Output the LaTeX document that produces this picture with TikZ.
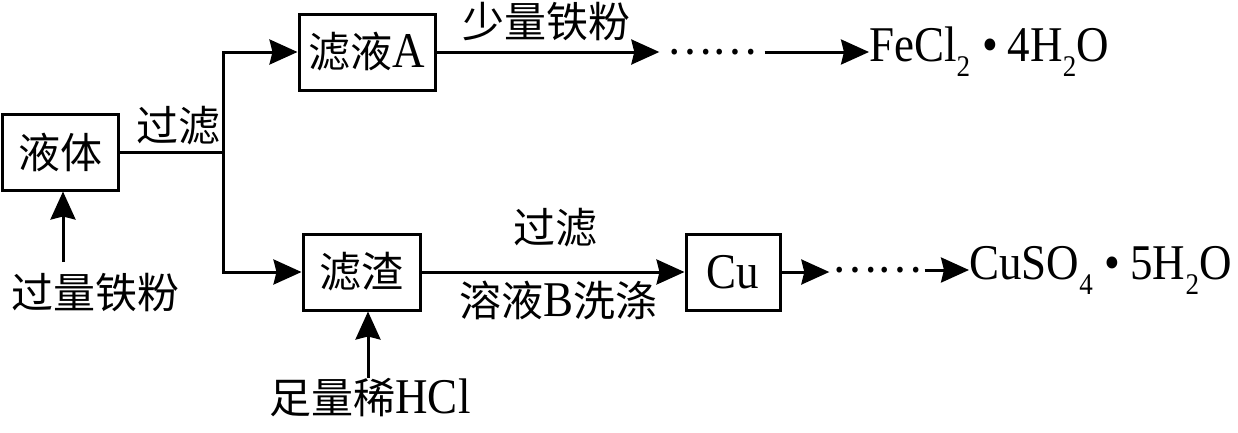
\documentclass[tikz,border=0pt]{standalone}
\usepackage{fontspec}
\setmainfont{Liberation Serif}[FakeStretch=0.9]
\newfontfamily\cjk{Noto Sans CJK SC}
\usetikzlibrary{arrows.meta}
\newcommand\zh[1]{{\fontsize{42}{46}\selectfont\cjk #1}}
\newcommand\dn[1]{\raisebox{-0.3em}{\fontsize{30}{32}\selectfont #1}}
\newcommand\mdot{\hspace{12pt}\textbullet\hspace{10pt}}
\begin{document}
\begin{tikzpicture}[x=1pt,y=-1pt,
 box/.style={draw,line width=3pt,inner sep=0pt,minimum height=76pt,font=\fontsize{50}{54}\selectfont},
 arr/.style={line width=3pt,-{Stealth[length=28pt,width=25pt,inset=3pt]}},
 ln/.style={line width=3pt},
 lab/.style={inner sep=0pt,font=\fontsize{50}{54}\selectfont},
 dotsn/.style={inner xsep=8pt,inner ysep=0pt}]
\useasboundingbox (0,0) rectangle (1238,432);
\node[box,minimum width=116pt] (yeti) at (60,152) {\zh{液体}};
\node[box,minimum width=136pt] (lvA) at (367,52) {\zh{滤液}A};
\node[box,minimum width=117pt] (lz) at (361.5,272) {\zh{滤渣}};
\node[box,minimum width=94pt] (cu) at (733,272) {Cu};
% branch
\coordinate (br) at (223,152);
\draw[ln] (yeti.east) -- (br);
\draw[arr] (br) |- (lvA.west);
\draw[arr] (br) |- (lz.west);
\node[lab] (gl1) at (178,126) {\zh{过滤}};
% inputs
\node[lab] (gl) at (95,293) {\zh{过量铁粉}};
\coordinate (g0) at (63,262);
\draw[arr] (g0) -- (g0 |- yeti.south);
\node[lab] (hcl) at (370,398) {\zh{足量稀}HCl};
\coordinate (h0) at (368,378);
\draw[arr] (h0) -- (h0 |- lz.south);
% top row
\node[lab] (sl) at (546,22) {\zh{少量铁粉}};
\node[lab,dotsn] (dots1) at (712,52) {\zh{……}};
\draw[arr] (lvA.east) -- (lvA.east -| dots1.west);
\node[lab,anchor=west] (fecl) at (869,52) {FeCl\dn{2}\mdot 4H\dn{2}O};
\draw[arr] (dots1.east) -- (fecl.west);
% bottom row
\draw[arr] (lz.east) -- (cu.west);
\node[lab] (gl2) at (555,228) {\zh{过滤}};
\node[lab] (xd) at (558,300) {\zh{溶液}B\zh{洗涤}};
\node[lab,dotsn,inner xsep=3pt] (dots2) at (877,270) {\zh{……}};
\draw[arr] (cu.east) -- (cu.east -| dots2.west);
\node[lab,anchor=west] (cuso) at (969,270) {CuSO\dn{4}\mdot 5H\dn{2}O};
\draw[arr] (dots2.east) -- (dots2.east -| cuso.west);
\end{tikzpicture}
\end{document}
